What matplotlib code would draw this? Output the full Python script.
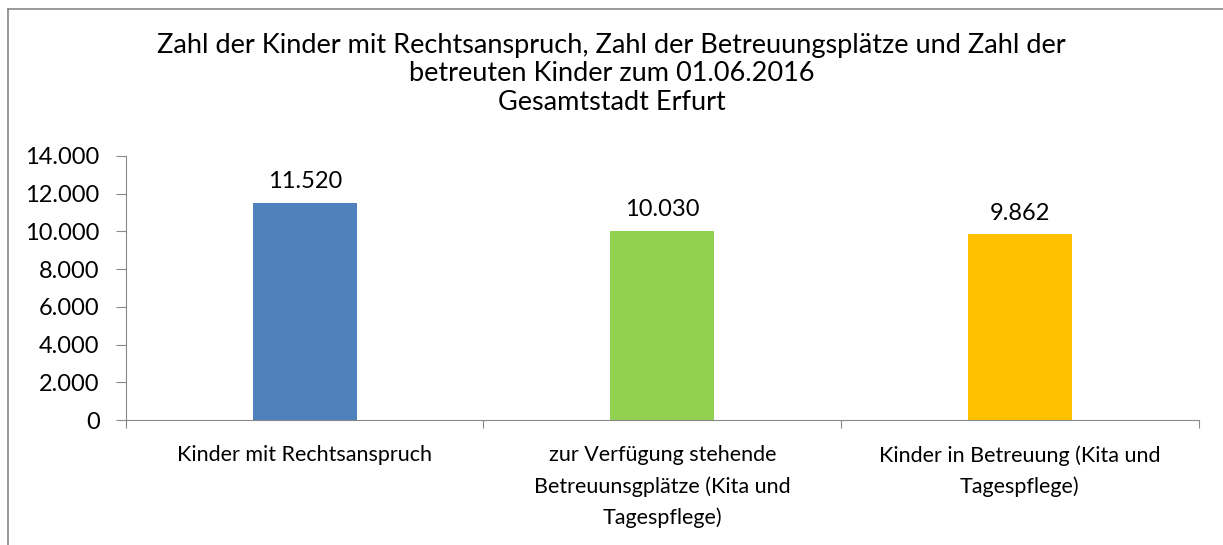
import matplotlib
matplotlib.use("Agg")
import matplotlib.pyplot as plt
from matplotlib.lines import Line2D
from matplotlib.ticker import FuncFormatter

categories = [
    "Kinder mit Rechtsanspruch",
    "zur Verfügung stehende\nBetreuunsgplätze (Kita und\nTagespflege)",
    "Kinder in Betreuung (Kita und\nTagespflege)",
]
values = [11520, 10030, 9862]
colors = ["#4F81BD", "#92D050", "#FFC000"]
yticks = [0, 2000, 4000, 6000, 8000, 10000, 12000, 14000]
title = ("Zahl der Kinder mit Rechtsanspruch, Zahl der Betreuungsplätze und Zahl der\n"
         "betreuten Kinder zum 01.06.2016\nGesamtstadt Erfurt")


def de_fmt(v, _pos=None):
    return f"{v:,.0f}".replace(",", ".")


plt.rcParams["font.family"] = ["Lato", "DejaVu Sans"]

fig = plt.figure(figsize=(12.23, 5.45), dpi=100)
ax = fig.add_axes([0.103, 0.229, 0.877, 0.485])

x = range(len(categories))
ax.bar(x, values, width=0.29, color=colors)
for xi, v in zip(x, values):
    ax.annotate(de_fmt(v), (xi, v), xytext=(0, 15), textcoords="offset points",
                ha="center", va="center", fontsize=17)

ax.set_xlim(-0.5, len(categories) - 0.5)
ax.set_ylim(0, 14000)
ax.set_yticks(yticks)
ax.yaxis.set_major_formatter(FuncFormatter(de_fmt))
ax.set_xticks([i - 0.5 for i in range(len(categories) + 1)], minor=False)
ax.set_xticklabels([])
ax.set_xticks(list(x), minor=True)
ax.set_xticklabels(categories, minor=True, fontsize=15.5, linespacing=1.65, va="top")
ax.tick_params(axis="x", which="minor", length=0, pad=18)
ax.tick_params(axis="x", which="major", length=6, color="#888888", direction="out")
ax.tick_params(axis="y", length=7, color="#888888", labelsize=17, pad=12)

for side in ["top", "right"]:
    ax.spines[side].set_visible(False)
for side in ["left", "bottom"]:
    ax.spines[side].set_color("#888888")

fig.text(0.5, 0.94, title, ha="center", va="top", fontsize=19.5, linespacing=1.18)

# outer frame (top and left edges visible in the source)
fig.add_artist(Line2D([0.0065, 1.0], [0.983, 0.983], transform=fig.transFigure,
                      color="#888888", lw=1.2))
fig.add_artist(Line2D([0.0065, 0.0065], [0.0, 0.983], transform=fig.transFigure,
                      color="#888888", lw=1.2))

fig.savefig("out.png", dpi=100)
